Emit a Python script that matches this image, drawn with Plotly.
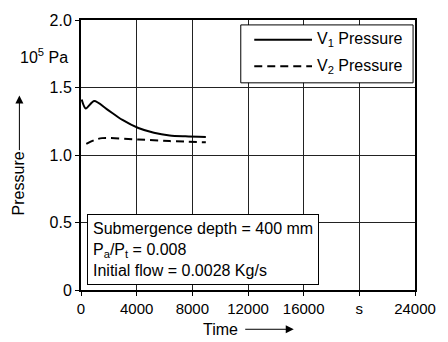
import plotly.graph_objects as go

# Data
t_v1 = [50, 340, 950, 1850, 2980, 4120, 5240, 6370, 7500, 8970]
p_v1 = [1.41, 1.345, 1.40, 1.34, 1.26, 1.20, 1.165, 1.145, 1.138, 1.133]
t_v2 = [380, 950, 1510, 4120, 6370, 8970]
p_v2 = [1.082, 1.11, 1.125, 1.115, 1.103, 1.094]
series_names = ["V<sub>1</sub> Pressure", "V<sub>2</sub> Pressure"]
series_dash = ["solid", "8px,5px"]

x_tickvals = [0, 4000, 8000, 12000, 16000, 20000, 24000]
x_ticktext = ["0", "4000", "8000", "12000", "16000", "s", "24000"]
y_tickvals = [0, 0.5, 1.0, 1.5, 2.0]
y_ticktext = ["0", "0.5", "1.0", "1.5", "2.0"]

FONT = "Liberation Sans, Arial, sans-serif"

fig = go.Figure()
for t, p, name, dash in zip([t_v1, t_v2], [p_v1, p_v2], series_names, series_dash):
    fig.add_trace(go.Scatter(x=t, y=p, mode="lines", name=name, showlegend=False,
                             line=dict(color="black", width=2, dash=dash, shape="spline", smoothing=0.8)))

PL, PT, PW, PH = 81, 15, 347, 275


def px(x):
    return (x - PL) / PW


def py(y):
    return (PT + PH - y) / PH


fig.update_layout(
    width=448, height=342,
    margin=dict(l=81, r=20, t=15, b=52),
    paper_bgcolor="white", plot_bgcolor="white",
    font=dict(family=FONT, size=16, color="black"),
    showlegend=False,
    xaxis=dict(range=[0, 24000], tickvals=x_tickvals, ticktext=x_ticktext,
               showgrid=True, gridcolor="#222", gridwidth=1,
               showline=True, linecolor="black", linewidth=2, mirror=True,
               ticks="outside", ticklen=4, tickcolor="black", zeroline=False,
               ticklabeloverflow="allow",
               tickfont=dict(family=FONT, size=15, color="black")),
    yaxis=dict(range=[0, 2.0], tickvals=y_tickvals, ticktext=y_ticktext,
               showgrid=True, gridcolor="#222", gridwidth=1,
               showline=True, linecolor="black", linewidth=2, mirror=True,
               ticks="outside", ticklen=4, tickcolor="black", zeroline=False,
               ticklabeloverflow="allow",
               tickfont=dict(family=FONT, size=16, color="black")),
)

# Legend box (drawn manually to match the long line samples of the reference)
fig.add_shape(type="rect", xref="paper", yref="paper", x0=px(247), x1=px(426), y0=py(79), y1=py(20),
              line=dict(color="black", width=1), fillcolor="white", layer="above")
for i, (name, dash) in enumerate(zip(series_names, series_dash)):
    yy = 35 + 27 * i
    fig.add_shape(type="line", xref="paper", yref="paper", x0=px(261), x1=px(321), y0=py(yy), y1=py(yy),
                  line=dict(color="black", width=2, dash=dash), layer="above")
    fig.add_annotation(xref="paper", yref="paper", x=px(324), y=py(yy), xanchor="left", yanchor="middle",
                       text=name, showarrow=False, font=dict(family=FONT, size=16, color="black"))

fig.add_annotation(xref="paper", yref="paper", x=px(87.7), y=py(285), xanchor="left", yanchor="bottom",
                   text="Submergence depth = 400 mm<br>P<sub>a</sub>/P<sub>t</sub> = 0.008<br>Initial flow = 0.0028 Kg/s",
                   align="left", showarrow=False, bgcolor="white", bordercolor="black", borderwidth=1,
                   borderpad=5, font=dict(family=FONT, size=16, color="black"))

fig.add_annotation(xref="paper", yref="paper", x=px(70), y=py(52), xanchor="right", yanchor="middle",
                   text="10<sup>5</sup> Pa", showarrow=False, font=dict(family=FONT, size=16, color="black"))

fig.add_annotation(xref="paper", yref="paper", x=px(17), y=py(181), xanchor="center", yanchor="middle",
                   text="Pressure", textangle=-90, showarrow=False, font=dict(family=FONT, size=16, color="black"))
fig.add_annotation(xref="paper", yref="paper", x=px(17), y=py(92), text="",
                   showarrow=True, ax=0, ay=56, arrowhead=2, arrowsize=1.6, arrowwidth=1, arrowcolor="black")

fig.add_annotation(xref="paper", yref="paper", x=px(226), y=py(330), xanchor="center", yanchor="middle",
                   text="Time", showarrow=False, font=dict(family=FONT, size=16, color="black"))
fig.add_annotation(xref="paper", yref="paper", x=px(302), y=py(330), text="",
                   showarrow=True, ax=-50, ay=0, arrowhead=2, arrowsize=1.6, arrowwidth=1, arrowcolor="black")

fig.write_html("out.html")
